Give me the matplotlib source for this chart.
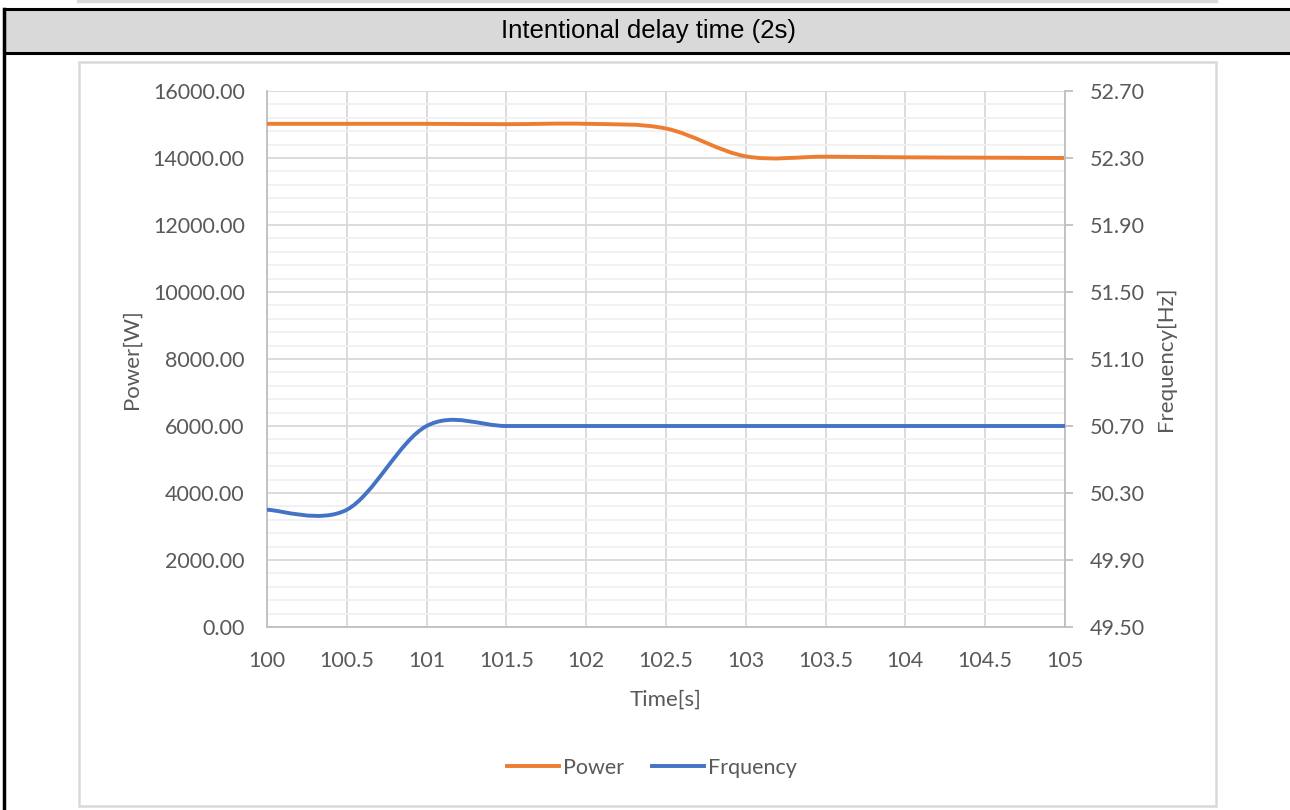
import matplotlib.pyplot as plt
import numpy as np
from matplotlib.path import Path
from matplotlib.patches import PathPatch, Rectangle
from matplotlib.lines import Line2D
from matplotlib.ticker import MultipleLocator, FixedLocator, FormatStrFormatter

# data (one point every 0.5 s)
time_s = [100, 100.5, 101, 101.5, 102, 102.5, 103, 103.5, 104, 104.5, 105]
power_w = [15020, 15020, 15020, 15010, 15020, 14880, 14050, 14040, 14020, 14010, 14000]
freq_hz = [50.20, 50.20, 50.70, 50.70, 50.70, 50.70, 50.70, 50.70, 50.70, 50.70, 50.70]
freq_ticks = [49.5, 49.9, 50.3, 50.7, 51.1, 51.5, 51.9, 52.3, 52.7]

title = 'Intentional delay time (2s)'
orange = '#ED7D31'
blue = '#4472C4'
txt = '#595959'


def smooth_path(x, y):
    # Excel style "smoothed line": cubic bezier through the points
    p = np.column_stack([x, y]).astype(float)
    n = len(p)
    verts = [p[0]]
    codes = [Path.MOVETO]
    for i in range(n - 1):
        p0 = p[i - 1] if i > 0 else p[i]
        p3 = p[i + 2] if i + 2 < n else p[i + 1]
        c1 = p[i] + (p[i + 1] - p0) / 6
        c2 = p[i + 1] - (p3 - p[i]) / 6
        verts += [c1, c2, p[i + 1]]
        codes += [Path.CURVE4] * 3
    return Path(verts, codes)


plt.rcParams['font.family'] = ['Lato', 'DejaVu Sans']

fig = plt.figure(figsize=(12.9, 8.1), dpi=100)
W, H = 1290, 810


def fx(px):
    return px / W


def fy(py):
    return 1 - py / H


# table frame around the chart
fig.add_artist(Rectangle((fx(4), fy(53)), 1, fy(9) - fy(53), transform=fig.transFigure,
                         facecolor='#D9D9D9', edgecolor='black', lw=2.2))
fig.add_artist(Line2D([fx(4), fx(4)], [0, fy(9)], color='black', lw=2.5, transform=fig.transFigure))
fig.add_artist(Line2D([fx(78), fx(1216)], [fy(1), fy(1)], color='#D9D9D9', lw=2.5, transform=fig.transFigure))
fig.add_artist(Rectangle((fx(79), fy(806)), fx(1216) - fx(79), fy(62) - fy(806), transform=fig.transFigure,
                         facecolor='none', edgecolor='#D9D9D9', lw=1.8))
fig.text(fx(648), fy(31), title, ha='center', va='center', fontsize=18.5,
         family='Liberation Sans', color='black')

fs = 15.5
ax = fig.add_axes([fx(267), fy(627), fx(1065) - fx(267), fy(91) - fy(627)])
ax.set_xlim(100, 105)
ax.set_ylim(0, 16000)
ax.xaxis.set_major_locator(MultipleLocator(0.5))
ax.yaxis.set_major_locator(MultipleLocator(2000))
ax.yaxis.set_minor_locator(MultipleLocator(400))
ax.yaxis.set_major_formatter(FormatStrFormatter('%.2f'))
ax.xaxis.set_major_formatter(plt.FuncFormatter(lambda v, p: ('%g' % v)))
ax.grid(which='major', color='#D9D9D9', lw=1.3)
ax.grid(which='minor', axis='y', color='#F0F0F0', lw=1.3)
ax.set_axisbelow(True)
for s in ['top', 'right']:
    ax.spines[s].set_visible(False)
for s in ['left', 'bottom']:
    ax.spines[s].set_color('#BFBFBF')
    ax.spines[s].set_linewidth(1.3)
ax.tick_params(which='both', length=0, labelsize=fs, labelcolor=txt)
ax.tick_params(axis='x', pad=17)
ax.tick_params(axis='y', pad=16)
ax.set_ylabel('Power[W]', fontsize=fs + 0.5, color=txt, labelpad=8)
ax.set_xlabel('Time[s]', fontsize=fs + 0.5, color=txt, labelpad=14)

ax2 = ax.twinx()
ax2.set_ylim(49.5, 52.7)
ax2.yaxis.set_major_locator(FixedLocator(freq_ticks))
ax2.yaxis.set_major_formatter(FormatStrFormatter('%.2f'))
for s in ['top', 'left', 'bottom']:
    ax2.spines[s].set_visible(False)
ax2.spines['right'].set_color('#BFBFBF')
ax2.spines['right'].set_linewidth(1.3)
ax2.tick_params(axis='y', length=6, width=1.3, color='#BFBFBF', labelsize=fs, labelcolor=txt, pad=12)
ax2.set_ylabel('Frequency[Hz]', fontsize=fs + 0.5, color=txt, labelpad=8)

ax.add_patch(PathPatch(smooth_path(time_s, power_w), fill=False, edgecolor=orange, lw=2.8,
                       capstyle='round', zorder=3))
ax2.add_patch(PathPatch(smooth_path(time_s, freq_hz), fill=False, edgecolor=blue, lw=2.8,
                        capstyle='round', zorder=3))

handles = [Line2D([], [], color=orange, lw=2.8), Line2D([], [], color=blue, lw=2.8)]
leg = fig.legend(handles, ['Power', 'Frquency'], loc='center', bbox_to_anchor=(fx(652), fy(768)),
                 ncol=2, frameon=False, fontsize=fs, handlelength=2.4, handletextpad=0.2,
                 columnspacing=1.3)
for t in leg.get_texts():
    t.set_color(txt)

fig.savefig('out.png', dpi=100)
